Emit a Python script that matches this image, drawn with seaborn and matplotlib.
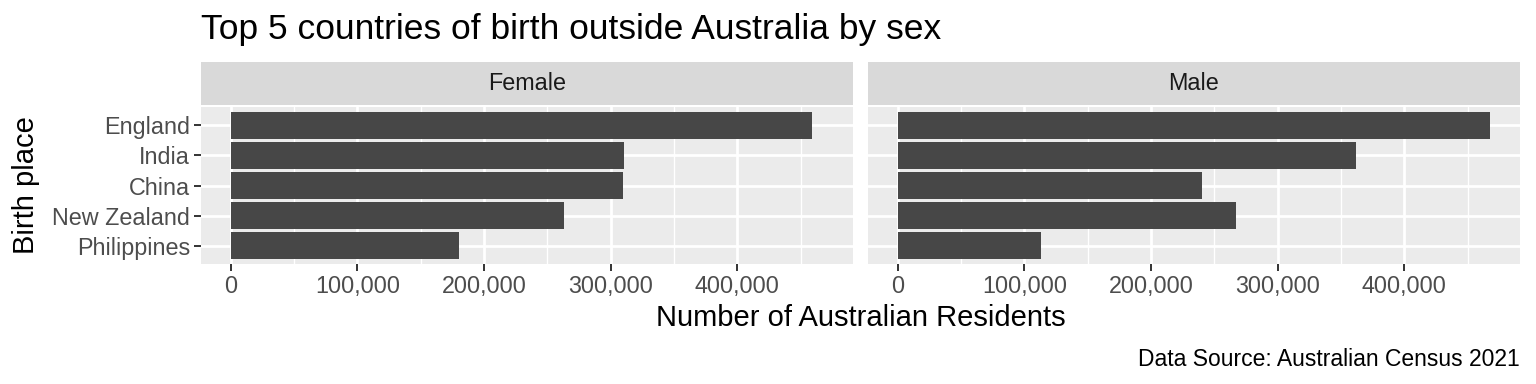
import matplotlib
matplotlib.use("Agg")
import matplotlib.pyplot as plt
import seaborn as sns
import pandas as pd
import numpy as np
from matplotlib.ticker import FuncFormatter, MultipleLocator

countries = ["England", "India", "China", "New Zealand", "Philippines"]
female = [459000, 310500, 310000, 263500, 180000]
male = [468000, 362000, 240000, 267000, 113000]
sexes = ["Female", "Male"]

df = pd.DataFrame({
    "Birth place": countries * 2,
    "Sex": ["Female"] * len(countries) + ["Male"] * len(countries),
    "Residents": female + male,
})

sns.set_theme(style="white")
plt.rcParams["font.family"] = ["Liberation Sans", "DejaVu Sans"]

fig = plt.figure(figsize=(15.36, 3.84), dpi=100)
W, H = 1536, 384
panel_top, panel_bot = 107, 264
strip_top, strip_bot = 62, 105
panels_x = [(201, 853), (868, 1520)]

xmax = max(female + male)
xlim = (-0.05 * xmax, 1.05 * xmax)

for i, sex in enumerate(sexes):
    x0, x1 = panels_x[i]
    ax = fig.add_axes([x0 / W, 1 - panel_bot / H, (x1 - x0) / W, (panel_bot - panel_top) / H])
    sub = df[df["Sex"] == sex]
    sns.barplot(data=sub, y="Birth place", x="Residents", order=countries,
                orient="h", color="#474747", saturation=1, width=0.9, ax=ax, zorder=3,
                linewidth=0, edgecolor="none")
    ax.set_facecolor("#EBEBEB")
    ax.set_xlim(*xlim)
    ax.set_ylim(len(countries) - 0.4, -0.6)
    ax.xaxis.set_major_locator(MultipleLocator(100000))
    ax.xaxis.set_minor_locator(MultipleLocator(50000))
    ax.xaxis.set_major_formatter(FuncFormatter(lambda v, p: f"{int(v):,}"))
    ax.grid(True, which="major", color="white", linewidth=2.0, zorder=0)
    ax.grid(True, which="minor", axis="x", color="white", linewidth=1.0, zorder=0)
    ax.set_axisbelow(True)
    for s in ax.spines.values():
        s.set_visible(False)
    ax.tick_params(axis="both", which="major", length=5, width=1.4, color="#333333",
                   labelsize=16.8, labelcolor="#4D4D4D", pad=3, bottom=True, left=(i == 0))
    ax.tick_params(axis="x", which="minor", length=0)
    ax.set_xlabel("")
    ax.set_ylabel("")
    if i == 1:
        ax.set_yticklabels([])
        ax.tick_params(axis="y", length=0)
    # strip
    sax = fig.add_axes([x0 / W, 1 - strip_bot / H, (x1 - x0) / W, (strip_bot - strip_top) / H])
    sax.set_facecolor("#D9D9D9")
    sax.set_xticks([]); sax.set_yticks([])
    for s in sax.spines.values():
        s.set_visible(False)
    sax.text(0.5, 0.5, sex, ha="center", va="center", fontsize=16.8, color="#1A1A1A",
             transform=sax.transAxes)

fig.text(201 / W, 1 - 30 / H, "Top 5 countries of birth outside Australia by sex",
         fontsize=25.5, ha="left", va="center", color="black")
fig.text((201 + 1520) / 2 / W, 1 - 318 / H, "Number of Australian Residents",
         fontsize=21, ha="center", va="center", color="black")
fig.text(26 / W, 1 - (panel_top + panel_bot) / 2 / H, "Birth place", fontsize=21,
         rotation=90, ha="center", va="center", color="black")
fig.text(1520 / W, 1 - 359 / H, "Data Source: Australian Census 2021", fontsize=16.5,
         ha="right", va="center", color="black")

fig.savefig("out.png", dpi=100, facecolor="white")
